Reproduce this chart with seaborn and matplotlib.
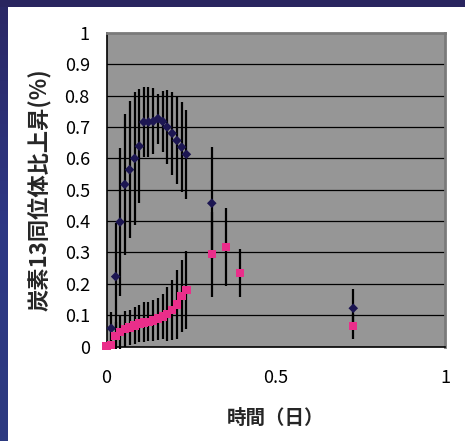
import numpy as np
import pandas as pd
import matplotlib
matplotlib.use("Agg")
import matplotlib.pyplot as plt
from matplotlib.patches import Rectangle
from matplotlib.colors import LinearSegmentedColormap
import seaborn as sns

sns.set_style("white")
plt.rcParams['font.family'] = ['Noto Sans CJK JP', 'DejaVu Sans']

nan = np.nan
# time in days
time = [0.0, 0.014, 0.027, 0.040, 0.054, 0.068, 0.083, 0.097, 0.110, 0.124, 0.138,
        0.152, 0.166, 0.179, 0.194, 0.208, 0.222, 0.236, 0.311, 0.354, 0.395, 0.729]
# upper series (navy diamonds)
upper = [nan, 0.058, 0.223, 0.397, 0.517, 0.564, 0.600, 0.639, 0.716, 0.716, 0.718,
         0.727, 0.718, 0.700, 0.680, 0.657, 0.636, 0.613, 0.457, nan, nan, 0.122]
upper_err = [nan, 0.052, 0.17, 0.235, 0.225, 0.218, 0.213, 0.182, 0.111, 0.111, 0.105,
             0.08, 0.097, 0.117, 0.133, 0.14, 0.144, 0.141, 0.178, nan, nan, 0.061]
# lower series (pink squares)
lower = [0.002, 0.004, 0.034, 0.046, 0.055, 0.061, 0.067, 0.073, 0.077, 0.079, 0.083,
         0.089, 0.096, 0.104, 0.117, 0.134, 0.161, 0.180, 0.294, 0.317, 0.234, 0.065]
lower_err = [0, 0, 0.043, 0.054, 0.058, 0.055, 0.058, 0.06, 0.064, 0.063, 0.065,
             0.067, 0.071, 0.086, 0.095, 0.109, 0.115, 0.125, 0.135, 0.125, 0.076, 0.040]

yticks = [0, 0.1, 0.2, 0.3, 0.4, 0.5, 0.6, 0.7, 0.8, 0.9, 1]
xticks = [0, 0.5, 1]

df = pd.DataFrame({"time": time, "upper": upper, "upper_err": upper_err,
                   "lower": lower, "lower_err": lower_err})

W, H = 465, 441
fig = plt.figure(figsize=(W / 100, H / 100), dpi=100)
fig.patch.set_facecolor('#29255f')

# white slide panel + left gradient strip
fig.add_artist(Rectangle((7 / W, 0), 1, (H - 7) / H, transform=fig.transFigure,
                         facecolor='white', edgecolor='none', zorder=0))
strip = fig.add_axes([0, 0, 7 / W, (H - 7) / H])
cmap = LinearSegmentedColormap.from_list('strip', ['#2a2866', '#2d3784', '#2c3a80'])
strip.imshow(np.linspace(0, 1, 100).reshape(-1, 1), aspect='auto', cmap=cmap)
strip.set_axis_off()

ax = fig.add_axes([106.5 / W, (H - 346.5) / H, (445 - 106.5) / W, (346.5 - 33) / H])
ax.set_facecolor('#969696')

for v in yticks[1:-1]:
    ax.axhline(v, color='black', lw=0.9, zorder=1)

ax.errorbar(df["time"], df["upper"], yerr=df["upper_err"], fmt='none',
            ecolor='black', elinewidth=1.6, capsize=0, zorder=2, clip_on=False)
ax.errorbar(df["time"], df["lower"], yerr=df["lower_err"], fmt='none',
            ecolor='black', elinewidth=1.6, capsize=0, zorder=2, clip_on=False)

sns.scatterplot(data=df, x="time", y="upper", marker='D', s=24, color='#1c1652',
                edgecolor='none', ax=ax, zorder=3, clip_on=False)
sns.scatterplot(data=df, x="time", y="lower", marker='s', s=36, color='#ea2e8a',
                edgecolor='none', ax=ax, zorder=4, clip_on=False)

ax.set_xlim(0, 1)
ax.set_ylim(0, 1)
ax.set_xticks(xticks)
ax.set_xticklabels([f'{v:g}' for v in xticks])
ax.set_yticks(yticks)
ax.set_yticklabels([f'{v:g}' for v in yticks])
ax.tick_params(axis='both', direction='in', length=4, width=1, colors='black',
               labelsize=13)
ax.tick_params(axis='y', pad=12)
ax.tick_params(axis='x', pad=16)

for s in ['left', 'bottom']:
    ax.spines[s].set_color('black')
    ax.spines[s].set_linewidth(1.2)
for s in ['top', 'right']:
    ax.spines[s].set_color('#7a7a7a')
    ax.spines[s].set_linewidth(2)

ax.set_xlabel('時間（日）', fontsize=14, fontweight='bold', labelpad=16)
ax.set_ylabel('炭素13同位体比上昇(%)', fontsize=16, fontweight='bold', labelpad=9)

fig.savefig('out.png', dpi=100, facecolor=fig.get_facecolor())
